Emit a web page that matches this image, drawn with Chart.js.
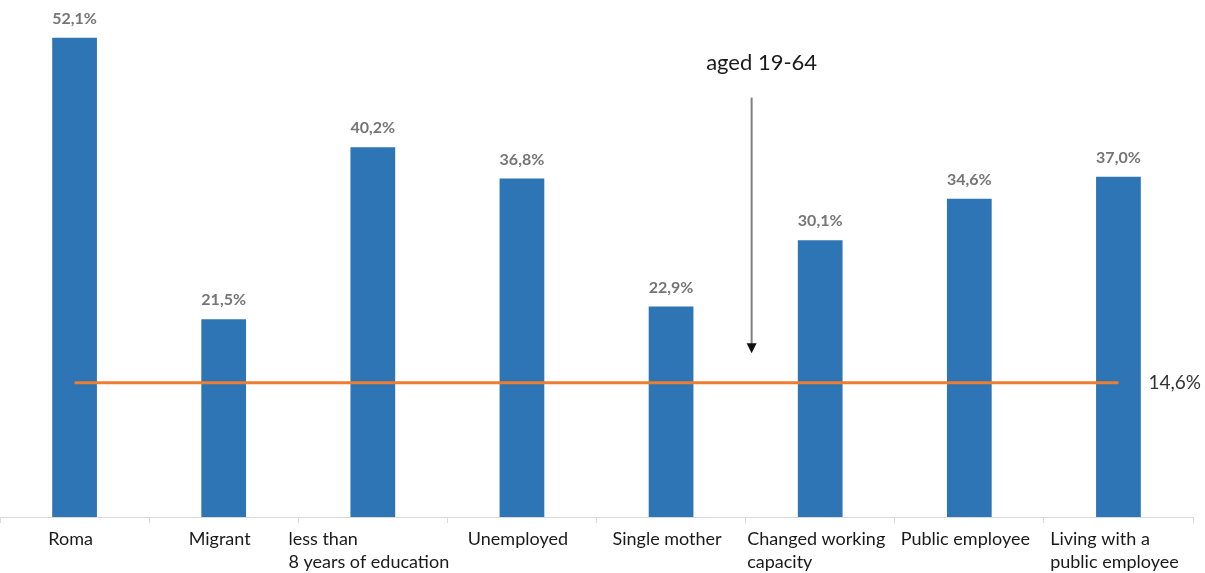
<!DOCTYPE html>
<html lang="en">
<head>
    <meta charset="UTF-8">
    <title>Share by group, aged 19-64</title>
    <script src="https://cdn.jsdelivr.net/npm/chart.js"></script>
    <style>
        body { margin: 0; padding: 0; background: #fff; }
        .container { width: 1205px; height: 573px; }
    </style>
</head>
<body>
    <div class="container">
        <canvas id="myChart" width="1205" height="573"></canvas>
    </div>

    <script>
        const categories = [
            ["Roma"],
            ["Migrant"],
            ["less than", "8 years of education"],
            ["Unemployed"],
            ["Single mother"],
            ["Changed working", "capacity"],
            ["Public employee"],
            ["Living with a", "public employee"]
        ];
        const groupValues = [52.1, 21.5, 40.2, 36.8, 22.9, 30.1, 34.6, 37.0];
        const averageValues = [14.6, 14.6, 14.6, 14.6, 14.6, 14.6, 14.6, 14.6];
        const averageLabel = "14,6%";
        const noteText = "aged 19-64";
        // arrow runs from 45.6 down to 17.8 (value units), just right of the 5th/6th boundary
        const arrowFrom = 45.6;
        const arrowTo = 17.8;

        const fmt = v => v.toFixed(1).replace('.', ',') + '%';

        const extras = {
            id: 'extras',
            afterDatasetsDraw: chart => {
                const ctx = chart.ctx;
                const x = chart.scales.x;
                const y = chart.scales.y;

                // value labels above bars
                ctx.save();
                ctx.font = 'bold 16px Lato';
                ctx.fillStyle = '#757575';
                ctx.textAlign = 'center';
                ctx.textBaseline = 'middle';
                chart.getDatasetMeta(0).data.forEach((bar, i) => {
                    ctx.fillText(fmt(groupValues[i]), bar.x, bar.y - 19);
                });

                // category labels: block centred (a bit left, like excel), lines left aligned
                ctx.font = '18px Lato';
                ctx.fillStyle = '#1a1a1a';
                ctx.textAlign = 'left';
                categories.forEach((lines, i) => {
                    const cx = x.getPixelForValue(i) - 4;
                    const w = Math.max(...lines.map(l => ctx.measureText(l).width));
                    lines.forEach((l, k) => {
                        ctx.fillText(l, cx - w / 2, y.bottom + 22 + k * 23);
                    });
                });

                // average label at the right end of the line
                const line = chart.getDatasetMeta(1).data;
                const last = line[line.length - 1];
                ctx.font = '19px Lato';
                ctx.fillStyle = '#333333';
                ctx.fillText(averageLabel, last.x + 30, last.y);

                // annotation and arrow
                const ax = (x.getPixelForValue(4) + x.getPixelForValue(5)) / 2 + 6;
                const top = y.getPixelForValue(arrowFrom);
                const tip = y.getPixelForValue(arrowTo);
                ctx.font = '22px Lato';
                ctx.fillStyle = '#1a1a1a';
                ctx.textAlign = 'center';
                ctx.fillText(noteText, ax + 10, top - 35);
                ctx.strokeStyle = '#808080';
                ctx.lineWidth = 2;
                ctx.beginPath();
                ctx.moveTo(ax, top);
                ctx.lineTo(ax, tip - 9);
                ctx.stroke();
                ctx.fillStyle = '#111111';
                ctx.beginPath();
                ctx.moveTo(ax - 5, tip - 10);
                ctx.lineTo(ax + 5, tip - 10);
                ctx.lineTo(ax, tip);
                ctx.closePath();
                ctx.fill();
                ctx.restore();
            }
        };

        const ctx = document.getElementById('myChart').getContext('2d');
        new Chart(ctx, {
            data: {
                labels: categories,
                datasets: [{
                    type: 'bar',
                    data: groupValues,
                    backgroundColor: '#2e75b6',
                    barPercentage: 0.3,
                    categoryPercentage: 1.0,
                    order: 2
                }, {
                    type: 'line',
                    data: averageValues,
                    borderColor: '#ed7d31',
                    borderWidth: 3,
                    pointRadius: 0,
                    order: 1
                }]
            },
            options: {
                responsive: false,
                animation: false,
                layout: { padding: { top: 2, bottom: 50, left: 0, right: 12 } },
                scales: {
                    x: {
                        offset: true,
                        grid: {
                            offset: true,
                            drawOnChartArea: false,
                            drawTicks: true,
                            tickLength: 6,
                            color: '#d9d9d9'
                        },
                        border: { color: '#d9d9d9', width: 1 },
                        ticks: { display: false }
                    },
                    y: {
                        display: false,
                        min: 0,
                        max: 56
                    }
                },
                plugins: {
                    legend: { display: false },
                    tooltip: { enabled: false }
                }
            },
            plugins: [extras]
        });
    </script>
</body>
</html>
